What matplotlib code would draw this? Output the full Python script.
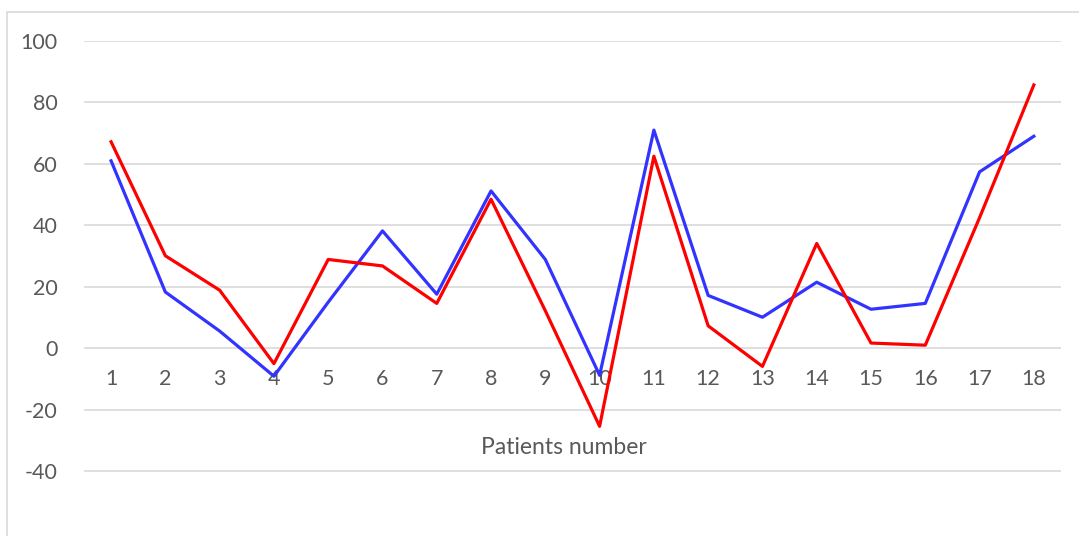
import matplotlib.pyplot as plt
from matplotlib.patches import Rectangle

plt.rcParams['font.family'] = ['Lato', 'DejaVu Sans']

patients = list(range(1, 19))
blue_values = [61.0, 18.3, 5.6, -9.1, 15.0, 38.2, 17.6, 51.2, 28.9, -8.8,
               71.0, 17.2, 10.1, 21.5, 12.7, 14.6, 57.4, 69.0]
red_values = [67.2, 30.1, 18.9, -5.0, 28.9, 26.8, 14.6, 48.5, 12.2, -25.4,
              62.5, 7.3, -5.9, 34.1, 1.7, 1.0, 42.5, 85.7]
y_ticks = [-40, -20, 0, 20, 40, 60, 80, 100]

text_color = '#595959'
grid_color = '#D9D9D9'

fig = plt.figure(figsize=(10.79, 5.36), dpi=100)
ax = fig.add_axes([0.0778, 0.0063, 0.9055, 0.9172])

# chart-area border (left and top only visible)
fig.patches.append(Rectangle((6.5 / 1079, -0.5), 2.0, 0.5 + (536 - 11.5) / 536,
                             transform=fig.transFigure, fill=False,
                             edgecolor=grid_color, linewidth=1.2))

for t in y_ticks:
    ax.axhline(t, color=grid_color, linewidth=1.2, zorder=1)

ax.plot(patients, blue_values, color='#3333FF', linewidth=2.3, zorder=3)
ax.plot(patients, red_values, color='#FF0000', linewidth=2.3, zorder=4)

# category labels sit inside the plot, between 0 and -20
for p in patients:
    ax.text(p, -10, str(p), ha='center', va='center', fontsize=15.5,
            color=text_color, zorder=2)

ax.text(9.34, -32.3, 'Patients number', ha='center', va='center',
        fontsize=16.5, color=text_color)

ax.set_xlim(0.5, 18.5)
ax.set_ylim(-60, 100)
ax.set_yticks(y_ticks)
ax.set_yticklabels([str(t) for t in y_ticks], fontsize=15.5, color=text_color)
ax.tick_params(axis='y', length=0, pad=19)
ax.set_xticks([])
for s in ax.spines.values():
    s.set_visible(False)

fig.savefig('out.png', dpi=100)
